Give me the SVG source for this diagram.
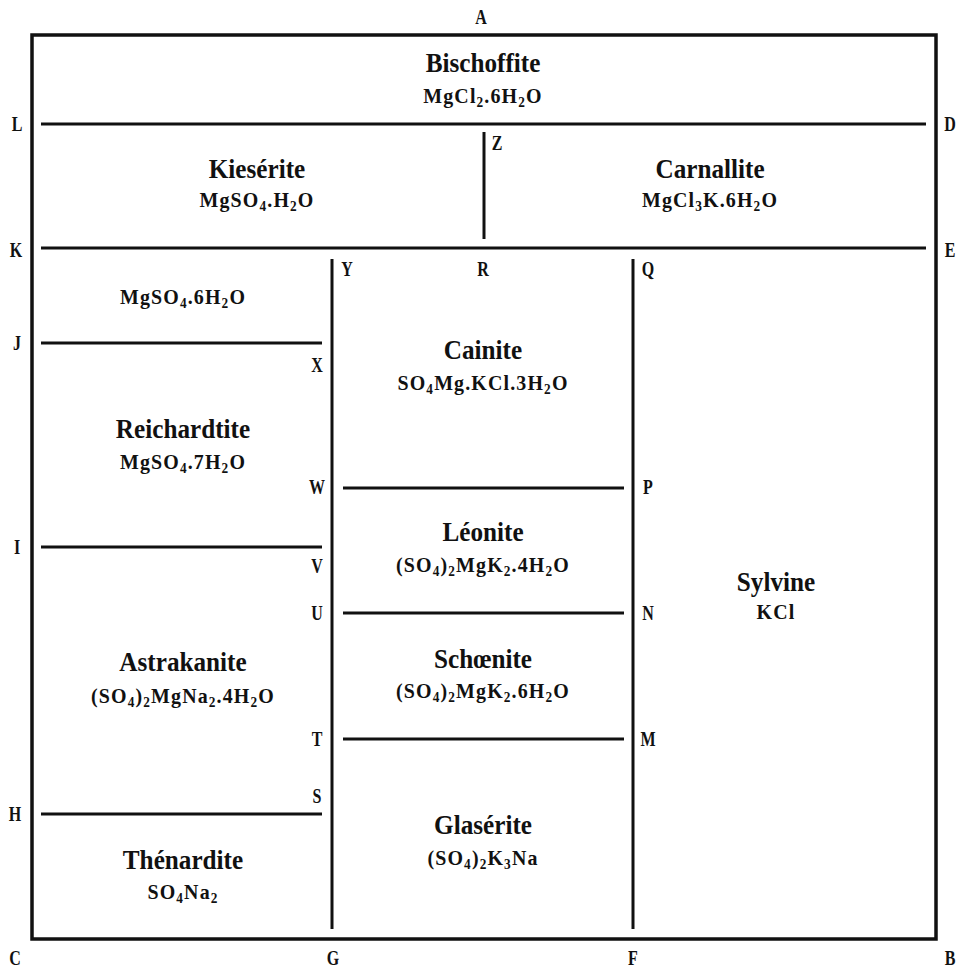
<svg xmlns="http://www.w3.org/2000/svg" width="956" height="970" viewBox="0 0 956 970">
<style>
text{font-family:"Liberation Serif","Times New Roman",serif;font-weight:bold;fill:#111;text-anchor:middle}
.t{font-size:28px}
.f{font-size:21px;letter-spacing:1.2px}
.l{font-size:20px}
.s{font-size:14px}
.ln{stroke:#111;stroke-width:3;fill:none}
.frame{stroke:#111;stroke-width:3.5;fill:#fff}
</style>
<rect width="956" height="970" fill="#fff"/>
<rect class="frame" x="32" y="35" width="904" height="904"/>
<g id="connectors">
<line class="ln" x1="41" y1="124" x2="926" y2="124"/>
<line class="ln" x1="41" y1="248" x2="926" y2="248"/>
<line class="ln" x1="484" y1="132" x2="484" y2="239"/>
<line class="ln" x1="332" y1="259" x2="332" y2="929"/>
<line class="ln" x1="633" y1="259" x2="633" y2="929"/>
<line class="ln" x1="41" y1="343" x2="322" y2="343"/>
<line class="ln" x1="41" y1="547" x2="322" y2="547"/>
<line class="ln" x1="41" y1="814" x2="322" y2="814"/>
<line class="ln" x1="343" y1="488" x2="624" y2="488"/>
<line class="ln" x1="343" y1="613" x2="624" y2="613"/>
<line class="ln" x1="343" y1="739" x2="624" y2="739"/>
</g>
<g id="points">
<text class="l" transform="translate(481,24) scale(0.8,1)">A</text>
<text class="l" transform="translate(17,131) scale(0.8,1)">L</text>
<text class="l" transform="translate(950,131) scale(0.8,1)">D</text>
<text class="l" transform="translate(497,150) scale(0.8,1)">Z</text>
<text class="l" transform="translate(16,257) scale(0.8,1)">K</text>
<text class="l" transform="translate(950,257) scale(0.8,1)">E</text>
<text class="l" transform="translate(347,276) scale(0.8,1)">Y</text>
<text class="l" transform="translate(483,276) scale(0.8,1)">R</text>
<text class="l" transform="translate(648,276) scale(0.8,1)">Q</text>
<text class="l" transform="translate(17,350) scale(0.8,1)">J</text>
<text class="l" transform="translate(317,372) scale(0.8,1)">X</text>
<text class="l" transform="translate(317,494) scale(0.8,1)">W</text>
<text class="l" transform="translate(648,494) scale(0.8,1)">P</text>
<text class="l" transform="translate(17,554) scale(0.8,1)">I</text>
<text class="l" transform="translate(317,573) scale(0.8,1)">V</text>
<text class="l" transform="translate(317,620) scale(0.8,1)">U</text>
<text class="l" transform="translate(648,620) scale(0.8,1)">N</text>
<text class="l" transform="translate(317,746) scale(0.8,1)">T</text>
<text class="l" transform="translate(648,746) scale(0.8,1)">M</text>
<text class="l" transform="translate(317,803) scale(0.8,1)">S</text>
<text class="l" transform="translate(15,821) scale(0.8,1)">H</text>
<text class="l" transform="translate(15,965) scale(0.8,1)">C</text>
<text class="l" transform="translate(333,965) scale(0.8,1)">G</text>
<text class="l" transform="translate(633,965) scale(0.8,1)">F</text>
<text class="l" transform="translate(950,965) scale(0.8,1)">B</text>
</g>
<g id="bischoffite">
<text class="t" transform="translate(483,72) scale(0.9,1)">Bischoffite</text>
<text class="f" transform="translate(483,103) scale(0.95,1)">MgCl<tspan class="s" dy="4">2</tspan><tspan dy="-4">.6H</tspan><tspan class="s" dy="4">2</tspan><tspan dy="-4">O</tspan></text>
</g>
<g id="kieserite">
<text class="t" transform="translate(257,178) scale(0.9,1)">Kiesérite</text>
<text class="f" transform="translate(257,207) scale(0.95,1)">MgSO<tspan class="s" dy="4">4</tspan><tspan dy="-4">.H</tspan><tspan class="s" dy="4">2</tspan><tspan dy="-4">O</tspan></text>
</g>
<g id="carnallite">
<text class="t" transform="translate(710,178) scale(0.9,1)">Carnallite</text>
<text class="f" transform="translate(710,207) scale(0.95,1)">MgCl<tspan class="s" dy="4">3</tspan><tspan dy="-4">K.6H</tspan><tspan class="s" dy="4">2</tspan><tspan dy="-4">O</tspan></text>
</g>
<g id="mgso4-6h2o">
<text class="f" transform="translate(183,304) scale(0.95,1)">MgSO<tspan class="s" dy="4">4</tspan><tspan dy="-4">.6H</tspan><tspan class="s" dy="4">2</tspan><tspan dy="-4">O</tspan></text>
</g>
<g id="cainite">
<text class="t" transform="translate(483,359) scale(0.9,1)">Cainite</text>
<text class="f" transform="translate(483,390) scale(0.95,1)">SO<tspan class="s" dy="4">4</tspan><tspan dy="-4">Mg.KCl.3H</tspan><tspan class="s" dy="4">2</tspan><tspan dy="-4">O</tspan></text>
</g>
<g id="reichardtite">
<text class="t" transform="translate(183,438) scale(0.9,1)">Reichardtite</text>
<text class="f" transform="translate(183,469) scale(0.95,1)">MgSO<tspan class="s" dy="4">4</tspan><tspan dy="-4">.7H</tspan><tspan class="s" dy="4">2</tspan><tspan dy="-4">O</tspan></text>
</g>
<g id="leonite">
<text class="t" transform="translate(483,541) scale(0.9,1)">Léonite</text>
<text class="f" transform="translate(483,572) scale(0.95,1)">(SO<tspan class="s" dy="4">4</tspan><tspan dy="-4">)</tspan><tspan class="s" dy="4">2</tspan><tspan dy="-4">MgK</tspan><tspan class="s" dy="4">2</tspan><tspan dy="-4">.4H</tspan><tspan class="s" dy="4">2</tspan><tspan dy="-4">O</tspan></text>
</g>
<g id="sylvine">
<text class="t" transform="translate(776,591) scale(0.9,1)">Sylvine</text>
<text class="f" transform="translate(776,619) scale(0.95,1)">KCl</text>
</g>
<g id="schoenite">
<text class="t" transform="translate(483,668) scale(0.9,1)">Schœnite</text>
<text class="f" transform="translate(483,698) scale(0.95,1)">(SO<tspan class="s" dy="4">4</tspan><tspan dy="-4">)</tspan><tspan class="s" dy="4">2</tspan><tspan dy="-4">MgK</tspan><tspan class="s" dy="4">2</tspan><tspan dy="-4">.6H</tspan><tspan class="s" dy="4">2</tspan><tspan dy="-4">O</tspan></text>
</g>
<g id="astrakanite">
<text class="t" transform="translate(183,671) scale(0.9,1)">Astrakanite</text>
<text class="f" transform="translate(183,703) scale(0.95,1)">(SO<tspan class="s" dy="4">4</tspan><tspan dy="-4">)</tspan><tspan class="s" dy="4">2</tspan><tspan dy="-4">MgNa</tspan><tspan class="s" dy="4">2</tspan><tspan dy="-4">.4H</tspan><tspan class="s" dy="4">2</tspan><tspan dy="-4">O</tspan></text>
</g>
<g id="glaserite">
<text class="t" transform="translate(483,834) scale(0.9,1)">Glasérite</text>
<text class="f" transform="translate(483,865) scale(0.95,1)">(SO<tspan class="s" dy="4">4</tspan><tspan dy="-4">)</tspan><tspan class="s" dy="4">2</tspan><tspan dy="-4">K</tspan><tspan class="s" dy="4">3</tspan><tspan dy="-4">Na</tspan></text>
</g>
<g id="thenardite">
<text class="t" transform="translate(183,869) scale(0.9,1)">Thénardite</text>
<text class="f" transform="translate(183,899) scale(0.95,1)">SO<tspan class="s" dy="4">4</tspan><tspan dy="-4">Na</tspan><tspan class="s" dy="4">2</tspan></text>
</g>
</svg>
